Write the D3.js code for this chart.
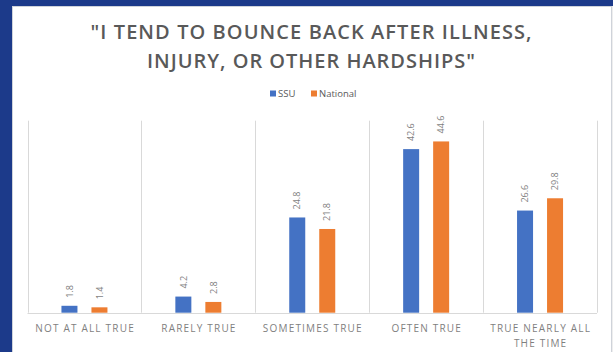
<!DOCTYPE html>
<html>
<head>
<meta charset="utf-8">
<script src="https://cdn.jsdelivr.net/npm/d3@7"></script>
<style>
  html, body { margin: 0; padding: 0; background: #1c3a8a; }
  svg { display: block; }
</style>
</head>
<body>
<script>
const titleLines = ['"I TEND TO BOUNCE BACK AFTER ILLNESS,', 'INJURY, OR OTHER HARDSHIPS"'];
const categories = ["NOT AT ALL TRUE", "RARELY TRUE", "SOMETIMES TRUE", "OFTEN TRUE", "TRUE NEARLY ALL THE TIME"];
const categoryLines = [["NOT AT ALL TRUE"], ["RARELY TRUE"], ["SOMETIMES TRUE"], ["OFTEN TRUE"], ["TRUE NEARLY ALL", "THE TIME"]];
const seriesNames = ["SSU", "National"];
const ssuValues = [1.8, 4.2, 24.8, 42.6, 26.6];
const nationalValues = [1.4, 2.8, 21.8, 44.6, 29.8];
const seriesColors = ["#4472c4", "#ed7d31"];

const W = 613, H = 352;
const svg = d3.select("body").append("svg").attr("width", W).attr("height", H);

// panel
svg.append("rect").attr("x", 0).attr("y", 0).attr("width", W).attr("height", H).attr("fill", "#1c3a8a");
svg.append("rect").attr("x", 12.5).attr("y", 6.5).attr("width", 599).attr("height", 350)
  .attr("fill", "#ffffff").attr("stroke", "#cfd3da").attr("stroke-width", 1);
svg.append("rect").attr("x", 612).attr("y", 6).attr("width", 1).attr("height", H).attr("fill", "#eeeeee");

const font = "'Open Sans', 'Noto Sans', sans-serif";

// title
const titleWidths = [441, 328];
svg.append("g").selectAll("text").data(titleLines).join("text")
  .attr("x", 311)
  .attr("y", (d, i) => 38.5 + i * 29.5)
  .attr("text-anchor", "middle")
  .attr("font-family", font)
  .attr("font-weight", 600)
  .attr("font-size", 20)
  .attr("textLength", (d, i) => titleWidths[i])
  .attr("lengthAdjust", "spacing")
  .attr("fill", "#595959")
  .text(d => d);

// legend
const legend = svg.append("g").attr("font-family", font).attr("font-size", 9.5).attr("fill", "#595959");
const legendX = [270, 311];
seriesNames.forEach((name, i) => {
  legend.append("rect").attr("x", legendX[i]).attr("y", 90.5).attr("width", 6).attr("height", 6).attr("fill", seriesColors[i]);
  legend.append("text").attr("x", legendX[i] + 8).attr("y", 97).text(name);
});

// scales
const x = d3.scaleBand().domain(categories).range([27.5, 597]).paddingInner(0).paddingOuter(0);
const y = d3.scaleLinear().domain([0, 50]).range([312.7, 120.7]);
const cw = x.bandwidth();
const xs = d3.scaleBand().domain(seriesNames).range([cw / 2 - 23, cw / 2 + 23]).paddingInner(14 / 30).paddingOuter(0);

// grid: vertical category separators
const grid = svg.append("g").attr("stroke", "#d9d9d9").attr("stroke-width", 1);
const bounds = categories.map(c => x(c)).concat([x.range()[1]]);
grid.selectAll("line").data(bounds).join("line")
  .attr("x1", d => Math.round(d) + 0.5).attr("x2", d => Math.round(d) + 0.5)
  .attr("y1", y(50)).attr("y2", y(0));
svg.append("line").attr("x1", x.range()[0]).attr("x2", x.range()[1])
  .attr("y1", Math.round(y(0)) + 0.5).attr("y2", Math.round(y(0)) + 0.5)
  .attr("stroke", "#d9d9d9");

// bars
const rows = categories.map((c, i) => ({ cat: c, vals: [ssuValues[i], nationalValues[i]] }));
const groups = svg.append("g").selectAll("g").data(rows).join("g")
  .attr("transform", d => `translate(${x(d.cat)},0)`);
groups.selectAll("rect").data(d => d.vals.map((v, j) => ({ v, s: seriesNames[j], j }))).join("rect")
  .attr("x", d => xs(d.s))
  .attr("width", xs.bandwidth())
  .attr("y", d => y(d.v))
  .attr("height", d => y(0) - y(d.v))
  .attr("fill", d => seriesColors[d.j]);

// value labels
groups.selectAll("text.val").data(d => d.vals.map((v, j) => ({ v, s: seriesNames[j], j }))).join("text")
  .attr("class", "val")
  .attr("transform", d => `translate(${xs(d.s) + xs.bandwidth() / 2},${y(d.v) - 8}) rotate(-90)`)
  .attr("dy", "0.35em")
  .attr("text-anchor", "start")
  .attr("font-family", font)
  .attr("font-size", 9)
  .attr("fill", "#7f7f7f")
  .text(d => d.v.toFixed(1));

// category labels
const catG = svg.append("g").attr("font-family", font).attr("font-size", 10).attr("fill", "#7f7f7f")
  .attr("letter-spacing", 1.2).attr("text-anchor", "middle");
categories.forEach((c, i) => {
  categoryLines[i].forEach((line, k) => {
    catG.append("text").attr("x", x(c) + cw / 2 + 0.6).attr("y", 332 + k * 14.5).text(line);
  });
});
</script>
</body>
</html>
